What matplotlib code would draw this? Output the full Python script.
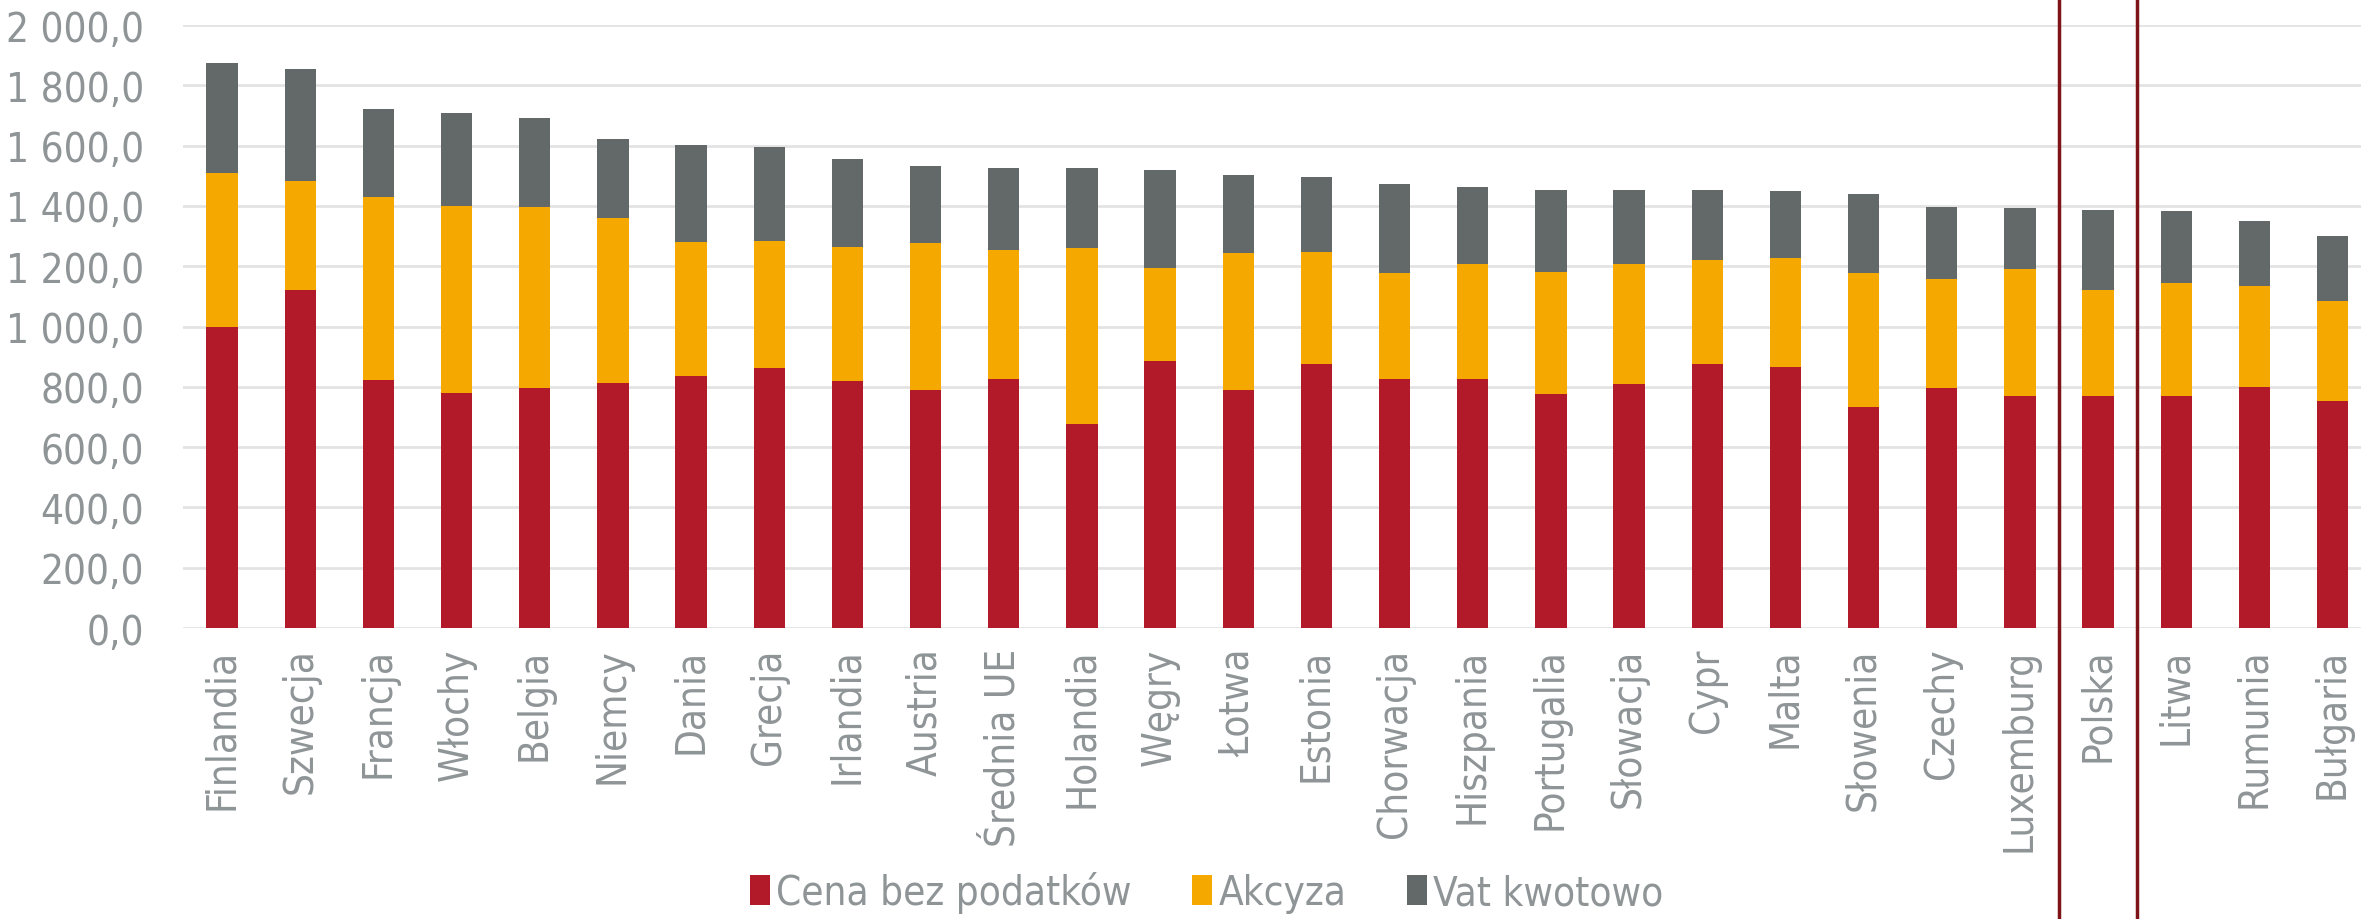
import numpy as np
import matplotlib
matplotlib.use("Agg")
from matplotlib import pyplot as plt
from matplotlib.ticker import FuncFormatter

plt.rcParams['font.family'] = ['DejaVu Sans']
plt.rcParams['font.stretch'] = 'condensed'

kraje = ["Finlandia", "Szwecja", "Francja", "Włochy", "Belgia", "Niemcy", "Dania",
         "Grecja", "Irlandia", "Austria", "Średnia UE", "Holandia", "Węgry", "Łotwa",
         "Estonia", "Chorwacja", "Hiszpania", "Portugalia", "Słowacja", "Cypr", "Malta",
         "Słowenia", "Czechy", "Luxemburg", "Polska", "Litwa", "Rumunia", "Bułgaria"]

cena = [997, 1122, 821, 780, 795, 814, 837, 861, 818, 789, 825, 678, 887, 791,
        875, 825, 827, 776, 810, 877, 867, 734, 795, 771, 768, 771, 800, 753]
akcyza = [513, 361, 610, 620, 601, 546, 445, 424, 445, 488, 429, 583, 307, 452,
          372, 354, 382, 405, 399, 342, 360, 444, 361, 421, 353, 373, 335, 332]
vat = [363, 372, 289, 309, 295, 261, 321, 310, 291, 256, 272, 265, 324, 261,
       249, 295, 253, 272, 243, 233, 222, 260, 242, 202, 264, 238, 215, 215]

kol_cena = "#B31A29"
kol_akcyza = "#F5A800"
kol_vat = "#636869"
szary = "#8F9597"

fig = plt.figure(figsize=(23.61, 9.2), dpi=100)
ax = fig.add_axes([0.0775, 0.3163, 0.927, 0.6554])

x = np.arange(len(kraje))
w = 0.4
ax.bar(x, cena, w, color=kol_cena, label="Cena bez podatków", zorder=3)
ax.bar(x, akcyza, w, bottom=cena, color=kol_akcyza, label="Akcyza", zorder=3)
ax.bar(x, vat, w, bottom=np.array(cena) + np.array(akcyza), color=kol_vat,
       label="Vat kwotowo", zorder=3)

ax.set_xlim(-0.5, len(kraje) - 0.5)
ax.set_ylim(0, 2000)
ax.set_yticks(np.arange(0, 2001, 200))
ax.yaxis.set_major_formatter(FuncFormatter(
    lambda v, p: "{:,.1f}".format(v).replace(",", " ").replace(".", ",")))
ax.grid(axis="y", color="#E3E3E3", linewidth=2, zorder=0)
for s in ax.spines.values():
    s.set_visible(False)
ax.tick_params(axis="both", length=0, colors=szary, labelsize=29)
ax.tick_params(axis="y", pad=28)
ax.set_xticks(x)
ax.set_xticklabels(kraje, rotation=90, color=szary)
ax.tick_params(axis="x", pad=14)

# pionowe linie wokół Polski
for xv in [23.5, 24.5]:
    ax.plot([xv, xv], [-1000, 2100], color="#7E1418", linewidth=2.5,
            clip_on=False, zorder=4)

leg = fig.legend(loc="lower center", ncol=3, frameon=False, fontsize=29,
                 bbox_to_anchor=(0.511, -0.033), handlelength=0.5, handleheight=0.75,
                 handletextpad=0.15, columnspacing=1.5)
for t in leg.get_texts():
    t.set_color(szary)

fig.savefig("out.png", dpi=100)
